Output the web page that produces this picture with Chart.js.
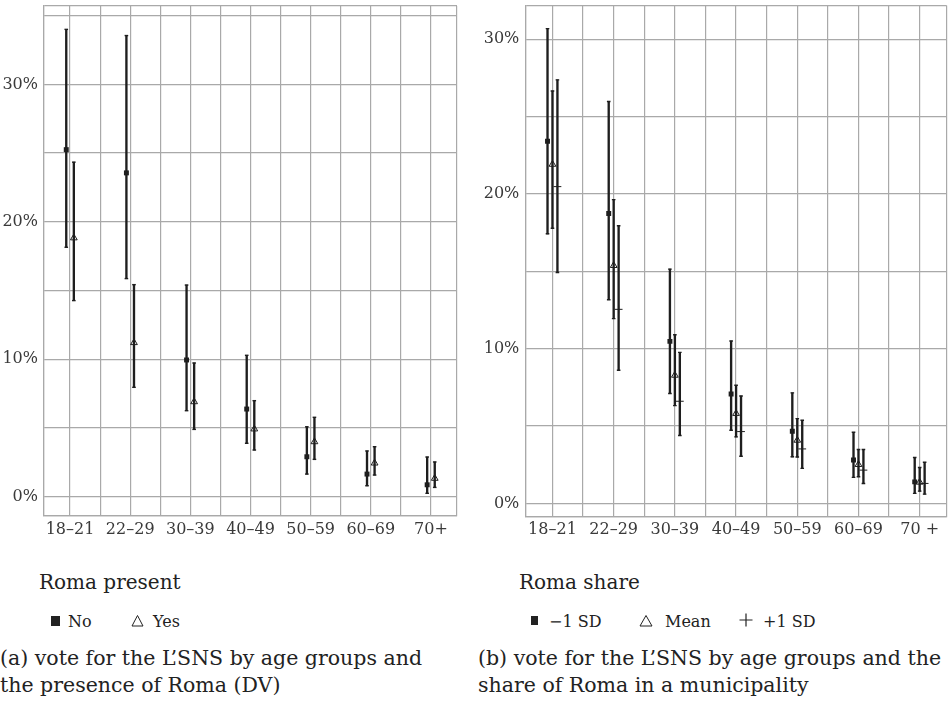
<!DOCTYPE html>
<html>
<head>
<meta charset="utf-8">
<script src="https://cdn.jsdelivr.net/npm/chart.js@4/dist/chart.umd.min.js"></script>
<style>
    body { margin: 0; width: 952px; height: 707px; position: relative; overflow: hidden; background: #fff; font-family: "DejaVu Serif", serif; color: #222; }
    .panel { position: absolute; top: 0; height: 546px; }
    .txt { position: absolute; white-space: nowrap; }
    .ltitle { font-size: 20px; line-height: 20px; top: 572px; }
    .item { font-size: 16px; line-height: 16px; top: 614px; }
    .cap { font-size: 20.5px; line-height: 26.5px; top: 645px; }
    .mark { position: absolute; }
</style>
</head>
<body>
<div class="panel" style="left:0;width:470px"><canvas id="chartA"></canvas></div>
<div class="panel" style="left:476px;width:476px"><canvas id="chartB"></canvas></div>

<div class="txt ltitle" style="left:39px">Roma present</div>
<div class="mark" style="left:51px;top:616px;width:9px;height:10px;background:#222"></div>
<div class="txt item" style="left:68px">No</div>
<svg class="mark" style="left:131px;top:614px" width="13" height="13"><polygon points="1,12 6.5,1.5 12,12" fill="none" stroke="#222" stroke-width="1"/></svg>
<div class="txt item" style="left:153px">Yes</div>
<div class="txt cap" style="left:0">(a) vote for the L’SNS by age groups and<br>the presence of Roma (DV)</div>

<div class="txt ltitle" style="left:519px">Roma share</div>
<div class="mark" style="left:531px;top:616px;width:7px;height:9px;background:#222"></div>
<div class="txt item" style="left:549px">−1 SD</div>
<svg class="mark" style="left:639px;top:614px" width="14" height="13"><polygon points="1,12 7,1.5 13,12" fill="none" stroke="#222" stroke-width="1"/></svg>
<div class="txt item" style="left:665px">Mean</div>
<svg class="mark" style="left:739px;top:613px" width="14" height="14"><path d="M7,0.5V13.5M0.5,7H13.5" stroke="#222" stroke-width="1.2"/></svg>
<div class="txt item" style="left:763px">+1 SD</div>
<div class="txt cap" style="left:478px">(b) vote for the L’SNS by age groups and the<br>share of Roma in a municipality</div>

<script>
// age groups on the x axis
const ageGroupsA = ["18–21", "22–29", "30–39", "40–49", "50–59", "60–69", "70+"];
const ageGroupsB = ["18–21", "22–29", "30–39", "40–49", "50–59", "60–69", "70 +"];

// (a) Roma present, percent
const noValues = [25.25, 23.56, 9.95, 6.38, 2.91, 1.65, 0.87];
const noLow = [18.15, 15.87, 6.26, 3.89, 1.65, 0.80, 0.25];
const noHigh = [34.0, 33.55, 15.4, 10.29, 5.09, 3.33, 2.89];
const yesValues = [18.83, 11.21, 6.91, 4.93, 4.0, 2.45, 1.34];
const yesLow = [14.27, 7.96, 4.9, 3.40, 2.72, 1.58, 0.68];
const yesHigh = [24.34, 15.43, 9.73, 6.99, 5.78, 3.64, 2.53];

// (b) Roma share, percent
const minusValues = [23.4, 18.73, 10.47, 7.07, 4.66, 2.81, 1.39];
const minusLow = [17.42, 13.16, 7.1, 4.73, 3.01, 1.68, 0.65];
const minusHigh = [30.68, 25.97, 15.14, 10.49, 7.14, 4.6, 2.97];
const meanValues = [21.91, 15.37, 8.28, 5.81, 4.08, 2.51, 1.37];
const meanLow = [17.78, 11.94, 6.32, 4.3, 3.0, 1.72, 0.79];
const meanHigh = [26.65, 19.63, 10.9, 7.63, 5.48, 3.48, 2.32];
const plusValues = [20.47, 12.54, 6.6, 4.64, 3.52, 2.15, 1.29];
const plusLow = [14.92, 8.6, 4.39, 3.05, 2.26, 1.29, 0.6];
const plusHigh = [27.37, 17.94, 9.76, 6.94, 5.37, 3.48, 2.66];

// gridlines, every 5 points; labels every 10
const yGridA = [0, 5, 10, 15, 20, 25, 30, 35];
const yGridB = [0, 5, 10, 15, 20, 25, 30];

const ink = "#1e1e1e";
const gridColor = "#a9a9a9";
const labelColor = "#3a3a3a";

Chart.defaults.font.family = "'DejaVu Serif', serif";

function series(values, low, high, dodge, style, radius) {
    const xs = values.map((v, i) => i + 1 + dodge);
    return [
        {
            type: "scatter",
            data: values.map((v, i) => ({ x: xs[i], y: v })),
            pointStyle: style,
            pointRadius: radius,
            backgroundColor: style === "rect" ? ink : "transparent",
            borderColor: ink,
            borderWidth: style === "rect" ? 0 : 1,
            order: 0,
        },
        {
            type: "scatter",
            data: low.map((v, i) => ({ x: xs[i], y: v })).concat(high.map((v, i) => ({ x: xs[i], y: v }))),
            pointStyle: "line",
            pointRadius: 1.8,
            borderColor: ink,
            borderWidth: 1.4,
            order: 1,
        },
        {
            type: "bar",
            data: low.map((v, i) => ({ x: xs[i], y: [v, high[i]] })),
            backgroundColor: ink,
            barThickness: 1.7,
            grouped: false,
            order: 2,
        },
    ];
}

function makeChart(id, labels, datasets, xRange, yRange, yGrid, pad, yWidth, xHeight) {
    const xTicks = [xRange[0]];
    for (let v = 1; v <= labels.length; v += 0.5) xTicks.push(v);
    xTicks.push(xRange[1]);
    const yTicks = [yRange[0]].concat(yGrid, [yRange[1]]);

    return new Chart(document.getElementById(id), {
        type: "scatter",
        data: { datasets: datasets },
        options: {
            responsive: true,
            maintainAspectRatio: false,
            animation: false,
            events: [],
            layout: { padding: pad },
            plugins: { legend: { display: false }, tooltip: { enabled: false } },
            scales: {
                x: {
                    type: "linear",
                    min: xRange[0],
                    max: xRange[1],
                    offset: false,
                    afterBuildTicks: (axis) => { axis.ticks = xTicks.map((v) => ({ value: v })); },
                    afterFit: (axis) => { axis.height = xHeight; axis.paddingLeft = 0; axis.paddingRight = 0; },
                    ticks: {
                        autoSkip: false,
                        maxRotation: 0,
                        padding: 4,
                        color: labelColor,
                        font: { size: 16 },
                        callback: (v) => (Number.isInteger(v) ? labels[v - 1] : ""),
                    },
                    grid: { color: gridColor, lineWidth: 1.2, drawTicks: false, offset: false },
                    border: { color: gridColor, width: 1.2 },
                },
                y: {
                    min: yRange[0],
                    max: yRange[1],
                    afterBuildTicks: (axis) => { axis.ticks = yTicks.map((v) => ({ value: v })); },
                    afterFit: (axis) => { axis.width = yWidth; axis.paddingTop = 0; axis.paddingBottom = 0; },
                    ticks: {
                        autoSkip: false,
                        padding: 6,
                        color: labelColor,
                        font: { size: 16 },
                        callback: (v) => (yGrid.includes(v) && v % 10 === 0 ? v + "%" : ""),
                    },
                    grid: { color: gridColor, lineWidth: 1.2, drawTicks: false },
                    border: { color: gridColor, width: 1.2 },
                },
            },
        },
    });
}

makeChart(
    "chartA",
    ageGroupsA,
    [].concat(
        series(noValues, noLow, noHigh, -0.063, "rect", 3.5),
        series(yesValues, yesLow, yesHigh, 0.063, "triangle", 3.9)
    ),
    [0.567, 7.433],
    [-1.4, 35.7],
    yGridA,
    { left: 0, top: 6, right: 13, bottom: 0 },
    44,
    30
);

makeChart(
    "chartB",
    ageGroupsB,
    [].concat(
        series(minusValues, minusLow, minusHigh, -0.081, "rect", 3.5),
        series(meanValues, meanLow, meanHigh, 0, "triangle", 3.9),
        series(plusValues, plusLow, plusHigh, 0.081, "cross", 3.9)
    ),
    [0.556, 7.44],
    [-0.86, 32.18],
    yGridB,
    { left: 0, top: 4.5, right: 2.3, bottom: 0 },
    49.3,
    29.3
);
</script>
</body>
</html>
